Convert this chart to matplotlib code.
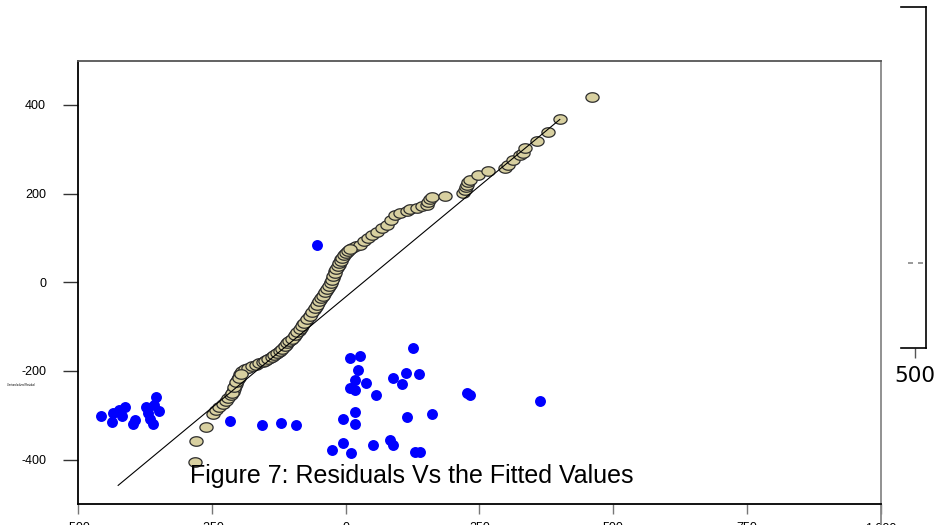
import matplotlib
matplotlib.use("Agg")

import matplotlib.pyplot as plt
import numpy as np
from matplotlib.path import Path

plt.rcParams["font.family"] = ["Liberation Sans", "DejaVu Sans"]
plt.rcParams["axes.unicode_minus"] = False

# Residuals of the cumulative fit (tan chain)
fit_x = [
    -281, -280, -261, -248, -242, -237, -230, -224, -219, -214, -211, -209,
    -207, -205, -203, -201, -199, -197, -195, -194, -188, -182, -175, -168,
    -161, -154, -148, -141, -136, -130, -125, -121, -116, -112, -107, -102,
    -97, -93, -88, -83, -79, -74, -69, -65, -60, -55, -51, -48, -44, -41,
    -37, -33, -30, -27, -24, -22, -19, -16, -13, -11, -8, -5, -1, 3, 7, 12,
    19, 27, 34, 42, 50, 59, 68, 77, 85, 92, 102, 115, 120, 133, 142, 152,
    154, 158, 161, 186, 219, 223, 225, 227, 229, 232, 247, 266, 298, 303,
    313, 326, 331, 335, 357, 378, 400, 460,
    -212, -208, -204, -200, -196,
    -151, -145, -138, -133, -128, -123, -118, -114, -110, -105, -100, -95,
    -90, -86, -81, -77, -72, -67, -62, -58, -53, -50, -46, -43, -39, -35,
    -32, -28, -26, -23, -20, -18, -15, -12, -9, -6, -3, 1, 5, 9,
]
fit_y = [
    -405, -357, -326, -296, -288, -281, -274, -267, -260, -254, -247, -240,
    -234, -229, -223, -218, -213, -208, -204, -199, -196, -193, -189, -186,
    -183, -179, -175, -170, -166, -161, -157, -152, -147, -141, -135, -130,
    -123, -116, -109, -103, -95, -87, -79, -71, -63, -55, -47, -39, -33, -26,
    -19, -12, -6, 1, 9, 17, 25, 33, 40, 46, 52, 58, 63, 69, 73, 78,
    81, 85, 93, 100, 107, 114, 122, 130, 141, 152, 157, 161, 166, 168, 171, 175,
    181, 188, 193, 195, 202, 208, 215, 220, 227, 231, 242, 251, 258, 265,
    276, 287, 292, 303, 319, 339, 368, 418,
    -250, -237, -226, -215, -206,
    -177, -173, -168, -164, -159, -155, -150, -144, -138, -133, -127, -120,
    -112, -106, -99, -91, -83, -75, -67, -59, -51, -43, -36, -30, -22, -16,
    -9, -2, 5, 13, 21, 29, 37, 43, 49, 55, 61, 66, 71, 76,
]

# Residuals vs fitted values (blue)
res_x = [
    -457, -435, -437, -423, -412, -418, -397, -394, -373, -369, -354, -358,
    -349, -360, -366, -54, -216, -156, -121, -93, 8, 27, 23, 17, 17, 8,
    38, 57, 88, 105, 113, 126, 137, 115, 17, 17, -5, 161, 227, 232, 363,
    -26, -5, 10, 51, 83, 88, 130, 139,
]
res_y = [
    -301, -294, -314, -287, -281, -301, -319, -310, -281, -294, -258, -276,
    -290, -319, -308, 85, -312, -321, -317, -321, -170, -166, -197, -220, -242, -238,
    -227, -254, -215, -229, -204, -148, -208, -303, -292, -319, -308, -296, -249, -254, -267,
    -378, -362, -384, -366, -355, -368, -382, -382,
]

# Reference line
ref_x = [-425, 400]
ref_y = [-458, 367]

x_ticks = [-500, -250, 0, 250, 500, 750, 1000]
x_tick_labels = ["-500", "-250", "0", "250", "500", "750", "1,000"]
y_ticks = [-400, -200, 0, 200, 400]

W, H = 939, 525
fig = plt.figure(figsize=(W / 100, H / 100), dpi=100)
ax = fig.add_axes([78 / W, 1 - 504 / H, (881 - 78) / W, (504 - 60.5) / H])

theta = np.linspace(0, 2 * np.pi, 60)
ellipse = Path(np.column_stack([np.cos(theta), 0.72 * np.sin(theta)]), closed=True)

ax.scatter(res_x, res_y, s=62, marker="o", color="#0000ff", linewidths=0, zorder=2)
ax.scatter(fit_x, fit_y, s=90, marker=ellipse, facecolor="#d8d0a0",
           edgecolor="#2b2b2b", linewidths=0.9, zorder=3)
ax.plot(ref_x, ref_y, color="black", lw=0.8, zorder=4)

ax.set_xlim(-500, 1000)
ax.set_ylim(-500, 500)
ax.set_xticks(x_ticks)
ax.set_xticklabels(x_tick_labels)
ax.set_yticks(y_ticks)
ax.tick_params(axis="y", length=11, width=1.0, pad=12, labelsize=9, color="#333333")
ax.tick_params(axis="x", length=7, width=1.0, pad=6, labelsize=9, color="#777777")

ax.spines["left"].set_color("black")
ax.spines["bottom"].set_color("black")
ax.spines["top"].set_color("#555555")
ax.spines["right"].set_color("#888888")
for s in ax.spines.values():
    s.set_linewidth(1.3)
# right frame edge runs past the bottom axis
ax.plot([1, 1], [0, -0.05], transform=ax.transAxes, color="#888888", lw=1.3,
        clip_on=False, solid_capstyle="butt")

fig.text(190 / W, 1 - 483 / H, "Figure 7: Residuals Vs the Fitted Values",
         fontsize=18, ha="left", va="baseline", zorder=10)
fig.text(7 / W, 1 - 385 / H, "Unstandardized Residual", fontsize=1.8,
         ha="left", va="center")

# partial neighbouring axis on the right edge
ax_r = fig.add_axes([901 / W, 1 - 348 / H, 25 / W, (348 - 7) / H])
ax_r.set_facecolor("none")
ax_r.set_xlim(0, 900)
ax_r.set_ylim(0, 1)
ax_r.spines["left"].set_visible(False)
for k in ("top", "right", "bottom"):
    ax_r.spines[k].set_linewidth(1.2)
ax_r.set_xticks([500])
ax_r.set_xticklabels(["500"], family="DejaVu Sans")
ax_r.set_yticks([])
ax_r.tick_params(axis="x", length=7, width=1.0, pad=6, labelsize=15.5, color="#555555")
ax_r.axhline((348 - 263) / 341, xmin=0.28, xmax=0.98, color="#888888", lw=1.2,
             ls=(0, (3, 3)))

fig.savefig("out.png", dpi=100)
